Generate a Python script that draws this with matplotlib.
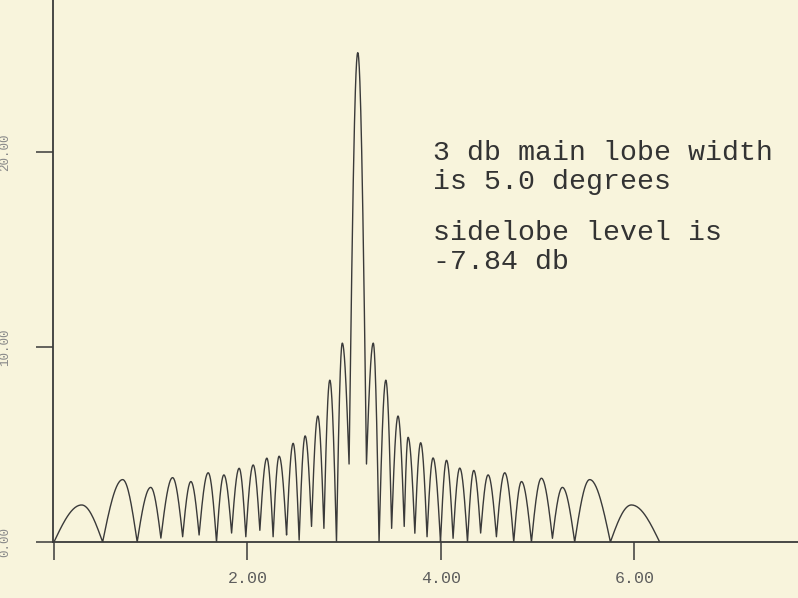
import numpy as np
import matplotlib
matplotlib.use("Agg")
import matplotlib.pyplot as plt

# lobe turning points of the array pattern (alternating minima / maxima)
psi = [0.00, 0.286, 0.503, 0.71, 0.86, 1.00, 1.105, 1.226, 1.33, 1.415,
       1.50, 1.594, 1.68, 1.756, 1.836, 1.914, 1.983, 2.059, 2.128, 2.20,
       2.265, 2.327, 2.404, 2.472, 2.534, 2.596, 2.662, 2.727, 2.79, 2.851,
       2.92, 2.98, 3.05, 3.14, 3.23, 3.30, 3.36, 3.43, 3.49, 3.556,
       3.62, 3.66, 3.73, 3.79, 3.856, 3.918, 3.995, 4.057, 4.125, 4.194,
       4.274, 4.339, 4.41, 4.487, 4.573, 4.659, 4.752, 4.832, 4.935, 5.038,
       5.152, 5.255, 5.382, 5.537, 5.751, 5.968, 6.26]
amp = [0.0, 1.9, 0.0, 3.2, 0.0, 2.8, 0.2, 3.3, 0.27, 3.1,
       0.36, 3.55, 0.0, 3.44, 0.46, 3.78, 0.27, 3.95, 0.6, 4.3,
       0.27, 4.4, 0.36, 5.06, 0.1, 5.44, 0.8, 6.46, 0.7, 8.3,
       0.0, 10.2, 4.0, 25.1, 4.0, 10.2, 0.0, 8.3, 0.7, 6.46,
       0.8, 5.37, 0.45, 5.09, 0.27, 4.31, 0.0, 4.19, 0.19, 3.79,
       0.0, 3.67, 0.46, 3.44, 0.27, 3.55, 0.0, 3.1, 0.0, 3.27,
       0.19, 2.8, 0.0, 3.2, 0.0, 1.9, 0.0]

xticks = [0, 2, 4, 6]
xticklabels = ["", "2.00", "4.00", "6.00"]
yticks = [0, 10, 20]
yticklabels = ["0.00", "10.00", "20.00"]

bg = "#f8f4dc"
ink = "#3a3a3a"

fig = plt.figure(figsize=(7.98, 5.98), dpi=100, facecolor=bg)
ax = fig.add_axes([53/798, 56/598, 745/798, 542/598], facecolor=bg)

# each lobe: sharp at the minima, rounded at the peaks
xs, ys = [], []
for i in range(len(psi) - 1):
    t = np.linspace(0, 1, 30)
    x0, x1, y0, y1 = psi[i], psi[i+1], amp[i], amp[i+1]
    if y1 > y0:
        y = y0 + (y1 - y0) * np.sin(np.pi / 2 * t)
    else:
        y = y1 + (y0 - y1) * np.cos(np.pi / 2 * t)
    xs.append(x0 + (x1 - x0) * t)
    ys.append(y)
ax.plot(np.concatenate(xs), np.concatenate(ys), color=ink, lw=1.0)

ax.set_xlim(-0.01, 7.69)
ax.set_ylim(0, 27.8)

for s in ["top", "right"]:
    ax.spines[s].set_visible(False)
for s in ["left", "bottom"]:
    ax.spines[s].set_color(ink)
    ax.spines[s].set_linewidth(1.3)

ax.set_xticks(xticks)
ax.set_xticklabels(xticklabels, family="Liberation Mono", fontsize=12, color="#5e5e5e")
ax.set_yticks(yticks)
ax.set_yticklabels(yticklabels, family="Liberation Mono", fontsize=9, color="#8a8a8a",
                   rotation=90, va="center")
ax.tick_params(axis="x", direction="out", length=13, width=1.1, color=ink, pad=8)
ax.tick_params(axis="y", direction="out", length=12, width=1.1, color=ink, pad=18)

note = dict(family="Liberation Mono", fontsize=20.3, color="#333333", va="baseline")
fig.text(433/798, 1 - 160/598, "3 db main lobe width", **note)
fig.text(433/798, 1 - 189/598, "is 5.0 degrees", **note)
fig.text(433/798, 1 - 240/598, "sidelobe level is", **note)
fig.text(433/798, 1 - 269/598, "-7.84 db", **note)

fig.savefig("out.png", dpi=100, facecolor=bg)
